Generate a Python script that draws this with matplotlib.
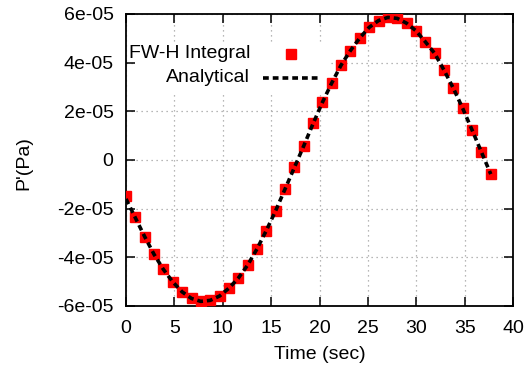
import matplotlib
matplotlib.use("Agg")
import matplotlib.pyplot as plt
from matplotlib.patches import Rectangle
from matplotlib.lines import Line2D

plt.rcParams['font.family'] = ['Liberation Sans', 'DejaVu Sans']

# values (pressure in 1e-5 Pa)
time_sec = [0.00, 0.97, 1.93, 2.90, 3.87, 4.83, 5.80, 6.77, 7.73, 8.70,
            9.67, 10.63, 11.60, 12.57, 13.53, 14.50, 15.47, 16.43, 17.40, 18.37,
            19.33, 20.30, 21.27, 22.23, 23.20, 24.17, 25.13, 26.10, 27.07, 28.03,
            29.00, 29.97, 30.93, 31.90, 32.87, 33.83, 34.80, 35.77, 36.73, 37.70]
fwh = [-1.48, -2.33, -3.15, -3.88, -4.49, -5.00, -5.41, -5.69, -5.80, -5.75,
       -5.58, -5.27, -4.87, -4.33, -3.66, -2.90, -2.08, -1.20, -0.30, 0.59,
       1.50, 2.37, 3.17, 3.90, 4.49, 5.02, 5.45, 5.72, 5.86, 5.82,
       5.62, 5.31, 4.86, 4.38, 3.69, 2.95, 2.12, 1.23, 0.33, -0.58]
analytical = [-1.60, -2.38, -3.15, -3.88, -4.50, -5.01, -5.42, -5.69, -5.81, -5.77,
              -5.59, -5.27, -4.86, -4.32, -3.66, -2.90, -2.08, -1.20, -0.31, 0.58,
              1.49, 2.37, 3.17, 3.90, 4.50, 5.02, 5.45, 5.73, 5.86, 5.82,
              5.62, 5.31, 4.86, 4.38, 3.69, 2.95, 2.12, 1.23, 0.33, -0.58]

xticks = [0, 5, 10, 15, 20, 25, 30, 35, 40]
yticks = [-6e-05, -4e-05, -2e-05, 0, 2e-05, 4e-05, 6e-05]
ytick_labels = ['-6e-05', '-4e-05', '-2e-05', '0', '2e-05', '4e-05', '6e-05']

fig = plt.figure(figsize=(5.29, 3.70), dpi=100)
ax = fig.add_axes([0.2382, 0.173, 0.7316, 0.7892])

ax.plot(time_sec, [v * 1e-5 for v in fwh], linestyle='none', marker='s',
        markersize=7, color='#ff0000', zorder=3)
ax.plot(time_sec, [v * 1e-5 for v in analytical], color='black', lw=2.6,
        dashes=(1.6, 1.1), zorder=4)

ax.set_xlim(0, 40)
ax.set_ylim(-6e-05, 6e-05)
ax.set_xticks(xticks)
ax.set_yticks(yticks)
ax.set_yticklabels(ytick_labels)

ax.set_axisbelow(True)
ax.grid(True, color='#a0a0a0', linestyle=(0, (1, 3)), lw=0.9)
ax.tick_params(direction='in', length=6.5, width=1.1, top=True, right=True,
               labelsize=14, colors='black')
ax.tick_params(axis='x', pad=10)
ax.tick_params(axis='y', pad=9)
for s in ax.spines.values():
    s.set_linewidth(1.3)

ax.set_xlabel('Time (sec)', fontsize=14)
ax.set_ylabel("P'(Pa)", fontsize=14)
ax.xaxis.set_label_coords(0.5, -0.138)
ax.yaxis.set_label_coords(-0.242, 0.49)

# key, drawn like gnuplot's (labels right aligned, sample on the right)
ax.add_patch(Rectangle((0.026, 0.733), 0.5, 0.161, transform=ax.transAxes,
                       facecolor='white', edgecolor='none', zorder=1))
ax.text(0.3204, 0.863, 'FW-H Integral', transform=ax.transAxes, fontsize=14,
        ha='right', va='center', zorder=5)
ax.text(0.3204, 0.781, 'Analytical', transform=ax.transAxes, fontsize=14,
        ha='right', va='center', zorder=5)
ax.add_line(Line2D([0.4256], [0.863], transform=ax.transAxes, marker='s',
                   markersize=7, color='#ff0000', linestyle='none'))
ax.add_line(Line2D([0.354, 0.496], [0.781, 0.781], transform=ax.transAxes,
                   color='black', lw=2.6, dashes=(1.6, 1.1)))

fig.savefig('out.png', dpi=100)
